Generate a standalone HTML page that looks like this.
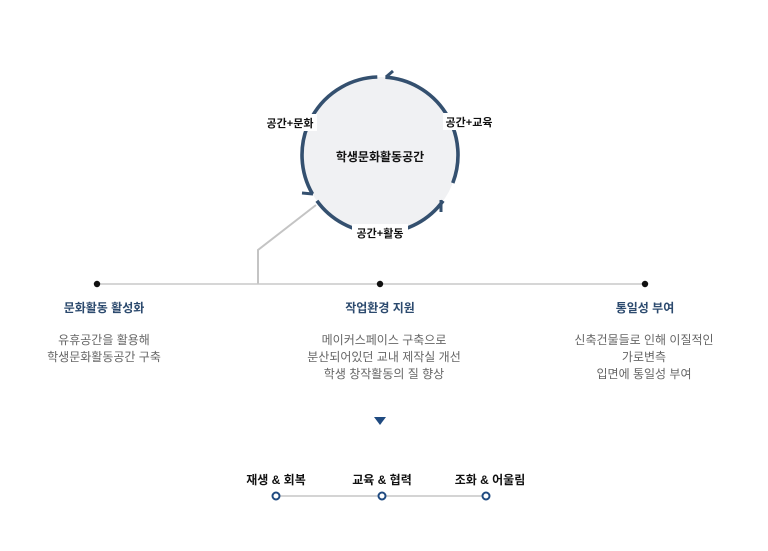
<!DOCTYPE html>
<html><head><meta charset="utf-8"><style>
body{margin:0;background:#fff;width:768px;height:551px;overflow:hidden;font-family:"Liberation Sans","Noto Sans CJK KR",sans-serif;}
svg{position:absolute;left:0;top:0}
</style></head><body>
<svg width="768" height="551" viewBox="0 0 768 551" xmlns="http://www.w3.org/2000/svg" font-family="Liberation Sans, Noto Sans CJK KR, sans-serif">
<circle cx="380" cy="155" r="78" fill="#f0f1f3"/>
<g fill="none" stroke="#34506f" stroke-width="3.6">
<path d="M452.8,183 A78,78 0 0 0 385.4,77.2"/>
<path d="M377.3,77 A78,78 0 0 0 312.5,194"/>
<path d="M316.9,200.8 A78,78 0 0 0 443.1,200.8"/>
</g>
<g fill="none" stroke="#34506f" stroke-width="3">
<path d="M386,77 L393,71"/>
<path d="M313,194 L302,193"/>
<path d="M441,200 L441,212"/>
</g>
<polyline points="316,205 258,250 258,284" fill="none" stroke="#c4c4c4" stroke-width="2"/>
<line x1="97" y1="284" x2="645" y2="284" stroke="#c8c8c8" stroke-width="1.5"/>
<circle cx="97" cy="284" r="3.2" fill="#111"/>
<circle cx="380" cy="284" r="3.2" fill="#111"/>
<circle cx="645" cy="284" r="3.2" fill="#111"/>
<rect x="263" y="114" width="54" height="17" fill="#fff"/>
<rect x="443" y="113" width="52" height="17" fill="#fff"/>
<rect x="352" y="224" width="56" height="17" fill="#fff"/>
<g font-size="11" font-weight="bold" fill="#111" text-anchor="middle">
<text x="290" y="127">공간+문화</text>
<text x="469" y="126">공간+교육</text>
<text x="380" y="237">공간+활동</text>
<text x="380" y="161" font-size="12">학생문화활동공간</text>
</g>
<g font-size="12" font-weight="bold" fill="#2c4a6e" text-anchor="middle">
<text x="104" y="312">문화활동 활성화</text>
<text x="380" y="312">작업환경 지원</text>
<text x="645" y="312">통일성 부여</text>
</g>
<g font-size="12" fill="#666" text-anchor="middle">
<text x="104" y="344">유휴공간을 활용해</text>
<text x="104" y="361">학생문화활동공간 구축</text>
<text x="384" y="344">메이커스페이스 구축으로</text>
<text x="384" y="361">분산되어있던 교내 제작실 개선</text>
<text x="384" y="378">학생 창작활동의 질 향상</text>
<text x="644" y="344">신축건물들로 인해 이질적인</text>
<text x="644" y="361">가로변측</text>
<text x="644" y="378">입면에 통일성 부여</text>
</g>
<polygon points="374,417 386,417 380,425" fill="#1f4a80"/>
<g font-size="12" font-weight="bold" fill="#111" text-anchor="middle">
<text x="276" y="484">재생 &amp; 회복</text>
<text x="382" y="484">교육 &amp; 협력</text>
<text x="490" y="484">조화 &amp; 어울림</text>
</g>
<line x1="276" y1="496" x2="486" y2="496" stroke="#aaa" stroke-width="1"/>
<g fill="#fff" stroke="#1f4a80" stroke-width="2">
<circle cx="276" cy="496" r="3.5"/>
<circle cx="382" cy="496" r="3.5"/>
<circle cx="486" cy="496" r="3.5"/>
</g>
</svg>
</body></html>
